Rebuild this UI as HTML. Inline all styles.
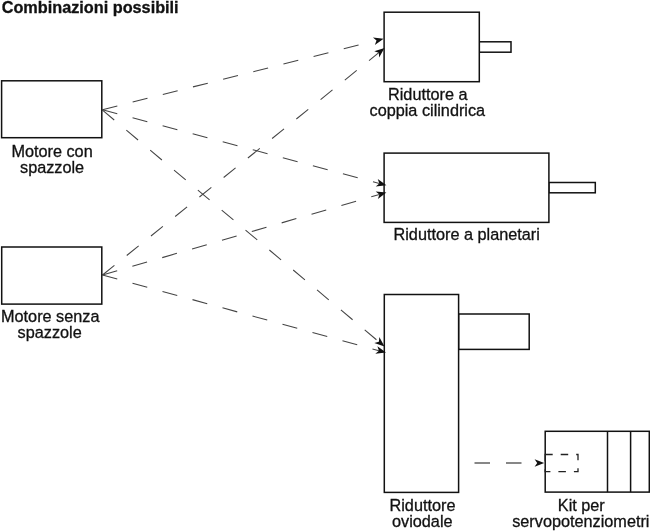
<!DOCTYPE html>
<html><head><meta charset="utf-8"><style>
html,body{margin:0;padding:0;background:#fff;}
body{width:650px;height:531px;overflow:hidden;}
svg{display:block;will-change:transform;}
text{font-family:"Liberation Sans",sans-serif;font-size:16.25px;fill:#111;stroke:#111;stroke-width:0.3;}
.b{fill:#fff;stroke:#111;stroke-width:1.5;}
.d{fill:none;stroke:#444;stroke-width:1.05;stroke-dasharray:15.3 15.8;}
.a{fill:#111;stroke:none;}
</style></head><body>
<svg width="650" height="531" viewBox="0 0 650 531">
<text x="1.7" y="13" style="font-weight:bold">Combinazioni possibili</text>

<!-- dashed connections -->
<line class="d" x1="102.5" y1="109.7" x2="373.9" y2="41.25"/>
<line class="d" x1="102.5" y1="275" x2="378.81" y2="52.68"/>
<line class="d" x1="102.5" y1="109.7" x2="379.35" y2="183.42"/>
<line class="d" x1="102.5" y1="275" x2="379.39" y2="194.44"/>
<line class="d" x1="102.5" y1="110.2" x2="378.9" y2="341.81"/>
<line class="d" x1="102.5" y1="275" x2="378.96" y2="350.67"/>
<line class="d" x1="443" y1="463" x2="537" y2="463" style="stroke:#111;stroke-width:1.2;stroke-dasharray:15.5 16"/>

<!-- motors -->
<rect class="b" x="1.6" y="80.8" width="100.2" height="56.9"/>
<rect class="b" x="1.7" y="247" width="100.1" height="57.1"/>

<!-- coppia cilindrica -->
<rect class="b" x="479.3" y="41.8" width="31.7" height="10.4"/>
<rect class="b" x="384.1" y="12.2" width="95.2" height="69.5"/>

<!-- planetari -->
<rect class="b" x="548.9" y="182.5" width="46.4" height="10.3"/>
<rect class="b" x="384.1" y="153.1" width="164.8" height="69.3"/>

<!-- oviodale -->
<rect class="b" x="458.6" y="314" width="70.6" height="35.4"/>
<rect class="b" x="384.3" y="294.5" width="74.3" height="197.9"/>

<!-- kit -->
<rect class="b" x="545.2" y="431.3" width="104.1" height="60.8"/>
<line class="b" x1="607.5" y1="431.3" x2="607.5" y2="492.1"/>
<line class="b" x1="630.6" y1="431.3" x2="630.6" y2="492.1"/>
<rect x="545.2" y="454.5" width="32.8" height="17.1" fill="none" stroke="#222" stroke-width="1.3" stroke-dasharray="7.5 8"/>

<!-- arrowheads -->
<path class="a" d="M383.6,38.8 L374.86,45.03 L376.52,40.59 L372.95,37.46 Z"/>
<path class="a" d="M384.5,48.1 L379.15,57.41 L378.81,52.68 L374.26,51.33 Z"/>
<path class="a" d="M386.4,185.3 L375.73,186.5 L379.35,183.42 L377.74,178.96 Z"/>
<path class="a" d="M386.4,192.4 L377.89,198.94 L379.39,194.44 L375.71,191.45 Z"/>
<path class="a" d="M384.5,346.5 L374.33,343.07 L378.9,341.81 L379.34,337.09 Z"/>
<path class="a" d="M386,352.6 L375.33,353.72 L378.96,350.67 L377.38,346.2 Z"/>
<path class="a" d="M544.2,463 L534.6,459.3 L537.2,463 L534.6,466.7 Z"/>

<!-- labels -->
<text x="11.4" y="156.8">Motore con</text>
<text x="20" y="172.8">spazzole</text>
<text x="1" y="321.5">Motore senza</text>
<text x="17.6" y="337.5">spazzole</text>
<text x="388" y="100">Riduttore a</text>
<text x="369.5" y="115.9">coppia cilindrica</text>
<text x="393.5" y="239.7">Riduttore a planetari</text>
<text x="389.5" y="511">Riduttore</text>
<text x="392" y="527">oviodale</text>
<text x="557.8" y="511.1">Kit per</text>
<text x="512.2" y="527.4">servopotenziometri</text>
</svg>
</body></html>
